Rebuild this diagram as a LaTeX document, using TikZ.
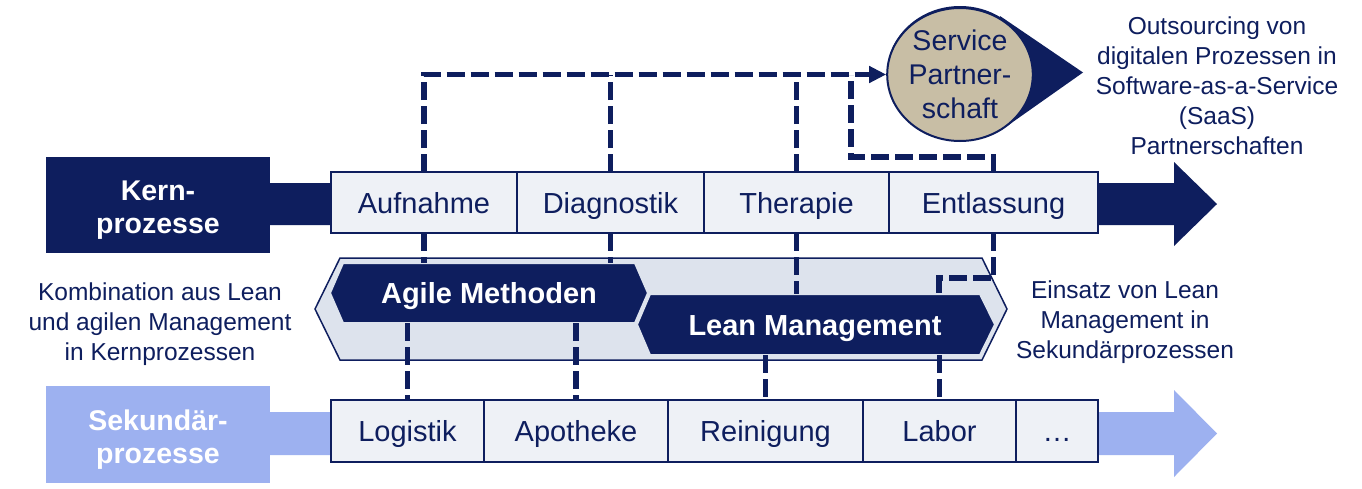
\documentclass[tikz,border=0pt]{standalone}
\usepackage{fontspec}
\setmainfont{Liberation Sans}
\usetikzlibrary{positioning,shapes.geometric,arrows.meta}

\definecolor{navy}{RGB}{14,30,94}
\definecolor{boxfill}{RGB}{238,241,246}
\definecolor{hexfill}{RGB}{221,227,237}
\definecolor{lightblue}{RGB}{157,177,240}
\definecolor{tan}{RGB}{200,190,165}

\begin{document}
\begin{tikzpicture}[x=1pt,y=-1pt,
  procbox/.style={draw=navy, fill=boxfill, line width=1.8pt, minimum height=61pt,
    inner sep=0pt, outer sep=0pt, text=navy, text height=21pt, text depth=0pt,
    font=\fontsize{29}{34}\selectfont},
  labeltext/.style={inner sep=0pt, text=white, align=center,
    font=\bfseries\fontsize{28.5}{33}\selectfont},
  methode/.style={inner sep=0pt, minimum height=60pt, text=white,
    text height=21pt, text depth=0pt, font=\bfseries\fontsize{29}{34}\selectfont},
  infotext/.style={text=navy, align=center, font=\fontsize{24.5}{30}\selectfont},
  dashline/.style={draw=navy, line width=5.5pt, dash pattern=on 18pt off 6pt}]

\fill[white] (0,0) rectangle (1362,488);
\useasboundingbox (0,0) rectangle (1362,488);

% core process arrow
\fill[navy] (270,183) -- (1174,183) -- (1174,162) -- (1217,204)
  -- (1174,246) -- (1174,225) -- (270,225) -- cycle;
\fill[navy] (46,157) rectangle (270,253);
\node (kern) [labeltext] at (158,210) {Kern-\\prozesse};

% secondary process arrow
\fill[lightblue] (270,412) -- (1174,412) -- (1174,390) -- (1217,433.5)
  -- (1174,477) -- (1174,455) -- (270,455) -- cycle;
\fill[lightblue] (46,386) rectangle (270,483);
\node (sek) [labeltext] at (158,439.5) {Sekund\"ar-\\prozesse};

% core processes
\node (aufnahme) [procbox, minimum width=186pt, anchor=west] at (331,202.5) {Aufnahme};
\node (diagnostik) [procbox, minimum width=187pt, right=0pt of aufnahme] {Diagnostik};
\node (therapie) [procbox, minimum width=185pt, right=0pt of diagnostik] {Therapie};
\node (entlassung) [procbox, minimum width=209pt, right=0pt of therapie] {Entlassung};

% secondary processes
\node (logistik) [procbox, minimum width=153pt, minimum height=62pt, anchor=west] at (331,431) {Logistik};
\node (apotheke) [procbox, minimum width=184pt, minimum height=62pt, right=0pt of logistik] {Apotheke};
\node (reinigung) [procbox, minimum width=195pt, minimum height=62pt, right=0pt of apotheke] {Reinigung};
\node (labor) [procbox, minimum width=153pt, minimum height=62pt, right=0pt of reinigung] {Labor};
\node (dots) [procbox, minimum width=82pt, minimum height=62pt, right=0pt of labor] {…};

% methods band
\draw[navy, fill=hexfill, line width=1.5pt] (315,309) -- (340,258) -- (982,258)
  -- (1007,309) -- (982,360) -- (340,360) -- cycle;
\draw[hexfill, fill=navy, line width=2pt] (330,293) -- (343,263) -- (635,263)
  -- (648,293) -- (635,323) -- (343,323) -- cycle;
\node (agile) [methode, minimum width=292pt] at (489,293) {Agile Methoden};
\draw[hexfill, fill=navy, line width=2pt] (637,324.5) -- (650,294) -- (980,294)
  -- (995,324.5) -- (980,355) -- (650,355) -- cycle;
\node (lean) [methode, minimum width=330pt, minimum height=61pt] at (815,324.5) {Lean Management};

% service partnership
\fill[navy] (960,73.5) ellipse (73 and 67.5);
\fill[navy] (1000,16) -- (1083,72.5) -- (1000,131) -- cycle;
\node (partner) [ellipse, draw=navy, line width=2pt, fill=tan, minimum width=144pt,
  minimum height=133pt, inner sep=0pt, align=center, text=navy,
  font=\fontsize{28.5}{34}\selectfont] at (960,74.5) {Service\\Partner-\\schaft};

% connections
\coordinate (knick) at (851,157);
\coordinate (knick2) at (939,278);
\draw[dashline, -{Triangle[length=17pt,width=16pt]}] (aufnahme.north)
  -- (aufnahme.north |- partner.west) -- (partner.west);
\draw[dashline] (diagnostik.north) -- (diagnostik.north |- partner.west);
\draw[dashline] (therapie.north) -- (therapie.north |- partner.west);
\draw[dashline] (entlassung.north) |- (knick) -- (knick |- partner.west);

\draw[dashline] (aufnahme.south) -- (aufnahme.south |- agile.north);
\draw[dashline] (diagnostik.south) -- (diagnostik.south |- agile.north);
\draw[dashline] (therapie.south) -- (therapie.south |- lean.north);
\draw[dashline] (entlassung.south) |- (knick2) -- (knick2 |- lean.north);

\draw[dashline] (agile.south -| logistik.north) -- (logistik.north);
\draw[dashline] (agile.south -| apotheke.north) -- (apotheke.north);
\draw[dashline] (lean.south -| reinigung.north) -- (reinigung.north);
\draw[dashline] (lean.south -| labor.north) -- (labor.north);

% explanations
\node (kombi) [infotext] at (160,324) {Kombination aus Lean\\und agilen Management\\in Kernprozessen};
\node (einsatz) [infotext] at (1125,322) {Einsatz von Lean\\Management in\\Sekund\"arprozessen};
\node (outsourcing) [infotext] at (1217,86) {Outsourcing von\\digitalen Prozessen in\\Software-as-a-Service\\(SaaS)\\Partnerschaften};

\end{tikzpicture}
\end{document}
